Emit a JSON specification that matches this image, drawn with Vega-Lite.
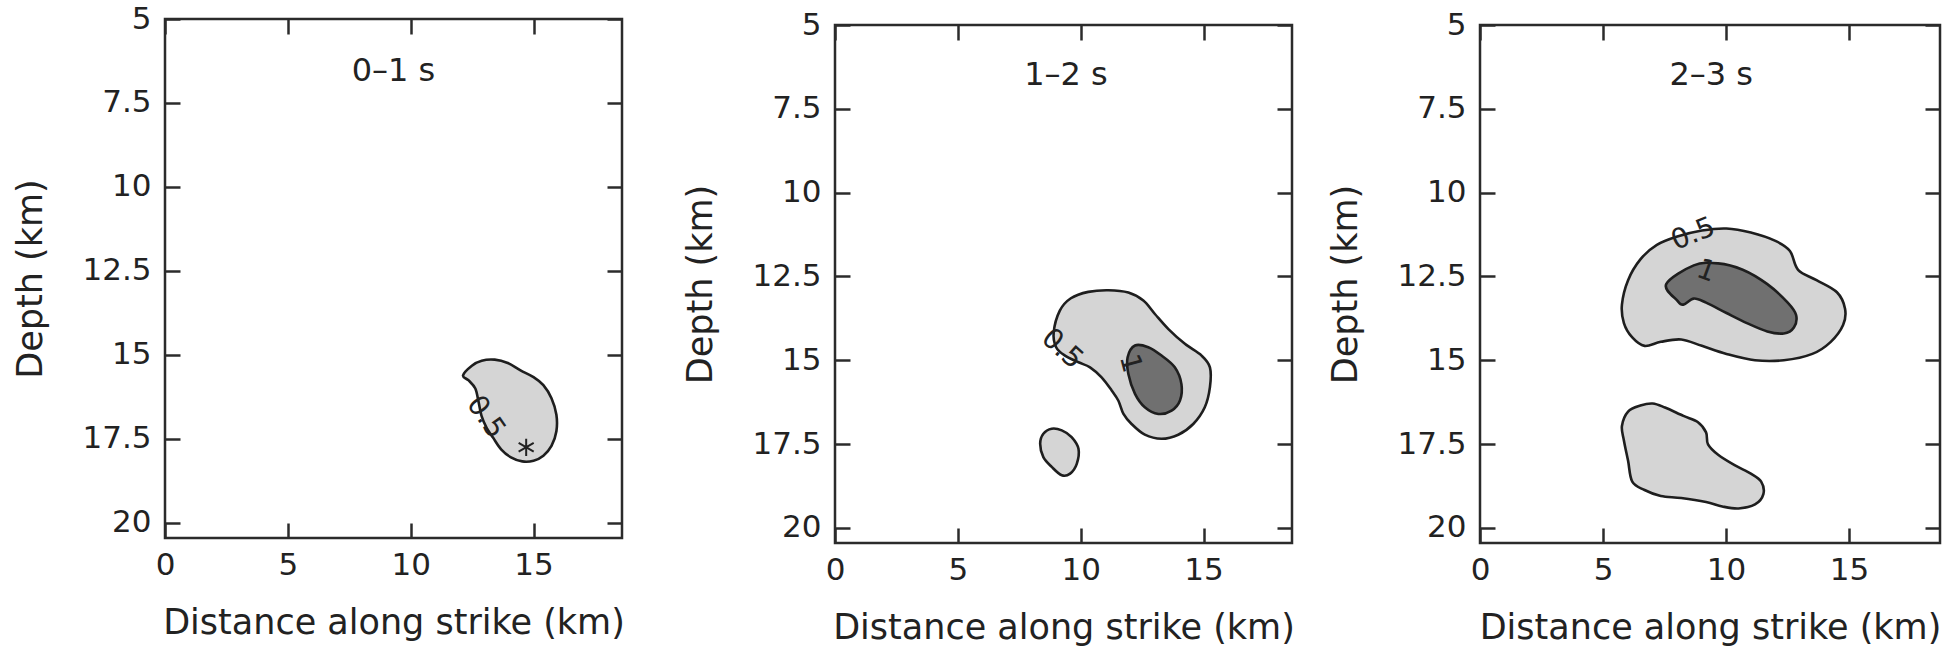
{
  "$schema": "https://vega.github.io/schema/vega-lite/v6.json",
  "background": "white",
  "padding": {"left": 12, "top": 0, "right": 0, "bottom": 0},
  "bounds": "full",
  "spacing": 56,
  "datasets": {
    "contours": [
      {"panel":"p1","poly":"a","level":0.5,"i":0,"x":12.13,"depth":15.61},
      {"panel":"p1","poly":"a","level":0.5,"i":1,"x":12.49,"depth":15.32},
      {"panel":"p1","poly":"a","level":0.5,"i":2,"x":12.89,"depth":15.17},
      {"panel":"p1","poly":"a","level":0.5,"i":3,"x":13.42,"depth":15.14},
      {"panel":"p1","poly":"a","level":0.5,"i":4,"x":13.95,"depth":15.24},
      {"panel":"p1","poly":"a","level":0.5,"i":5,"x":14.47,"depth":15.46},
      {"panel":"p1","poly":"a","level":0.5,"i":6,"x":15.0,"depth":15.66},
      {"panel":"p1","poly":"a","level":0.5,"i":7,"x":15.4,"depth":15.9},
      {"panel":"p1","poly":"a","level":0.5,"i":8,"x":15.73,"depth":16.29},
      {"panel":"p1","poly":"a","level":0.5,"i":9,"x":15.93,"depth":16.78},
      {"panel":"p1","poly":"a","level":0.5,"i":10,"x":15.93,"depth":17.27},
      {"panel":"p1","poly":"a","level":0.5,"i":11,"x":15.73,"depth":17.71},
      {"panel":"p1","poly":"a","level":0.5,"i":12,"x":15.4,"depth":18.0},
      {"panel":"p1","poly":"a","level":0.5,"i":13,"x":15.0,"depth":18.15},
      {"panel":"p1","poly":"a","level":0.5,"i":14,"x":14.54,"depth":18.17},
      {"panel":"p1","poly":"a","level":0.5,"i":15,"x":14.08,"depth":18.05},
      {"panel":"p1","poly":"a","level":0.5,"i":16,"x":13.68,"depth":17.81},
      {"panel":"p1","poly":"a","level":0.5,"i":17,"x":13.35,"depth":17.46},
      {"panel":"p1","poly":"a","level":0.5,"i":18,"x":13.09,"depth":17.17},
      {"panel":"p1","poly":"a","level":0.5,"i":19,"x":12.89,"depth":16.83},
      {"panel":"p1","poly":"a","level":0.5,"i":20,"x":12.76,"depth":16.39},
      {"panel":"p1","poly":"a","level":0.5,"i":21,"x":12.63,"depth":16.0},
      {"panel":"p1","poly":"a","level":0.5,"i":22,"x":12.36,"depth":15.76},

      {"panel":"p2","poly":"a","level":0.5,"i":0,"x":8.9,"depth":14.17},
      {"panel":"p2","poly":"a","level":0.5,"i":1,"x":9.15,"depth":13.52},
      {"panel":"p2","poly":"a","level":0.5,"i":2,"x":9.6,"depth":13.15},
      {"panel":"p2","poly":"a","level":0.5,"i":3,"x":10.31,"depth":12.96},
      {"panel":"p2","poly":"a","level":0.5,"i":4,"x":11.13,"depth":12.91},
      {"panel":"p2","poly":"a","level":0.5,"i":5,"x":11.94,"depth":12.98},
      {"panel":"p2","poly":"a","level":0.5,"i":6,"x":12.55,"depth":13.22},
      {"panel":"p2","poly":"a","level":0.5,"i":7,"x":13.02,"depth":13.62},
      {"panel":"p2","poly":"a","level":0.5,"i":8,"x":13.57,"depth":14.07},
      {"panel":"p2","poly":"a","level":0.5,"i":9,"x":14.24,"depth":14.51},
      {"panel":"p2","poly":"a","level":0.5,"i":10,"x":14.92,"depth":14.86},
      {"panel":"p2","poly":"a","level":0.5,"i":11,"x":15.26,"depth":15.21},
      {"panel":"p2","poly":"a","level":0.5,"i":12,"x":15.26,"depth":15.8},
      {"panel":"p2","poly":"a","level":0.5,"i":13,"x":15.05,"depth":16.4},
      {"panel":"p2","poly":"a","level":0.5,"i":14,"x":14.58,"depth":16.9},
      {"panel":"p2","poly":"a","level":0.5,"i":15,"x":13.97,"depth":17.22},
      {"panel":"p2","poly":"a","level":0.5,"i":16,"x":13.29,"depth":17.34},
      {"panel":"p2","poly":"a","level":0.5,"i":17,"x":12.61,"depth":17.22},
      {"panel":"p2","poly":"a","level":0.5,"i":18,"x":12.07,"depth":16.9},
      {"panel":"p2","poly":"a","level":0.5,"i":19,"x":11.74,"depth":16.6},
      {"panel":"p2","poly":"a","level":0.5,"i":20,"x":11.53,"depth":16.2},
      {"panel":"p2","poly":"a","level":0.5,"i":21,"x":11.26,"depth":15.9},
      {"panel":"p2","poly":"a","level":0.5,"i":22,"x":10.85,"depth":15.51},
      {"panel":"p2","poly":"a","level":0.5,"i":23,"x":10.38,"depth":15.21},
      {"panel":"p2","poly":"a","level":0.5,"i":24,"x":9.91,"depth":15.06},
      {"panel":"p2","poly":"a","level":0.5,"i":25,"x":9.36,"depth":14.86},
      {"panel":"p2","poly":"a","level":0.5,"i":26,"x":9.0,"depth":14.61},

      {"panel":"p2","poly":"b","level":1,"i":0,"x":12.21,"depth":14.56},
      {"panel":"p2","poly":"b","level":1,"i":1,"x":12.75,"depth":14.61},
      {"panel":"p2","poly":"b","level":1,"i":2,"x":13.29,"depth":14.86},
      {"panel":"p2","poly":"b","level":1,"i":3,"x":13.83,"depth":15.21},
      {"panel":"p2","poly":"b","level":1,"i":4,"x":14.1,"depth":15.71},
      {"panel":"p2","poly":"b","level":1,"i":5,"x":14.04,"depth":16.2},
      {"panel":"p2","poly":"b","level":1,"i":6,"x":13.7,"depth":16.5},
      {"panel":"p2","poly":"b","level":1,"i":7,"x":13.16,"depth":16.6},
      {"panel":"p2","poly":"b","level":1,"i":8,"x":12.61,"depth":16.4},
      {"panel":"p2","poly":"b","level":1,"i":9,"x":12.21,"depth":16.0},
      {"panel":"p2","poly":"b","level":1,"i":10,"x":11.94,"depth":15.41},
      {"panel":"p2","poly":"b","level":1,"i":11,"x":11.91,"depth":14.91},

      {"panel":"p2","poly":"c","level":0.5,"i":0,"x":8.82,"depth":17.04},
      {"panel":"p2","poly":"c","level":0.5,"i":1,"x":9.23,"depth":17.09},
      {"panel":"p2","poly":"c","level":0.5,"i":2,"x":9.63,"depth":17.29},
      {"panel":"p2","poly":"c","level":0.5,"i":3,"x":9.91,"depth":17.64},
      {"panel":"p2","poly":"c","level":0.5,"i":4,"x":9.84,"depth":18.09},
      {"panel":"p2","poly":"c","level":0.5,"i":5,"x":9.57,"depth":18.38},
      {"panel":"p2","poly":"c","level":0.5,"i":6,"x":9.23,"depth":18.43},
      {"panel":"p2","poly":"c","level":0.5,"i":7,"x":8.82,"depth":18.18},
      {"panel":"p2","poly":"c","level":0.5,"i":8,"x":8.48,"depth":17.89},
      {"panel":"p2","poly":"c","level":0.5,"i":9,"x":8.35,"depth":17.49},
      {"panel":"p2","poly":"c","level":0.5,"i":10,"x":8.48,"depth":17.19},

      {"panel":"p3","poly":"a","level":0.5,"i":0,"x":5.77,"depth":13.34},
      {"panel":"p3","poly":"a","level":0.5,"i":1,"x":6.02,"depth":12.61},
      {"panel":"p3","poly":"a","level":0.5,"i":2,"x":6.52,"depth":11.99},
      {"panel":"p3","poly":"a","level":0.5,"i":3,"x":7.19,"depth":11.56},
      {"panel":"p3","poly":"a","level":0.5,"i":4,"x":8.02,"depth":11.31},
      {"panel":"p3","poly":"a","level":0.5,"i":5,"x":9.02,"depth":11.13},
      {"panel":"p3","poly":"a","level":0.5,"i":6,"x":10.02,"depth":11.07},
      {"panel":"p3","poly":"a","level":0.5,"i":7,"x":11.01,"depth":11.19},
      {"panel":"p3","poly":"a","level":0.5,"i":8,"x":12.01,"depth":11.44},
      {"panel":"p3","poly":"a","level":0.5,"i":9,"x":12.6,"depth":11.74},
      {"panel":"p3","poly":"a","level":0.5,"i":10,"x":12.93,"depth":12.3},
      {"panel":"p3","poly":"a","level":0.5,"i":11,"x":13.68,"depth":12.61},
      {"panel":"p3","poly":"a","level":0.5,"i":12,"x":14.51,"depth":12.97},
      {"panel":"p3","poly":"a","level":0.5,"i":13,"x":14.84,"depth":13.46},
      {"panel":"p3","poly":"a","level":0.5,"i":14,"x":14.76,"depth":13.95},
      {"panel":"p3","poly":"a","level":0.5,"i":15,"x":14.26,"depth":14.45},
      {"panel":"p3","poly":"a","level":0.5,"i":16,"x":13.51,"depth":14.81},
      {"panel":"p3","poly":"a","level":0.5,"i":17,"x":12.35,"depth":15.0},
      {"panel":"p3","poly":"a","level":0.5,"i":18,"x":11.18,"depth":15.0},
      {"panel":"p3","poly":"a","level":0.5,"i":19,"x":10.02,"depth":14.81},
      {"panel":"p3","poly":"a","level":0.5,"i":20,"x":9.02,"depth":14.57},
      {"panel":"p3","poly":"a","level":0.5,"i":21,"x":8.18,"depth":14.38},
      {"panel":"p3","poly":"a","level":0.5,"i":22,"x":7.35,"depth":14.45},
      {"panel":"p3","poly":"a","level":0.5,"i":23,"x":6.69,"depth":14.57},
      {"panel":"p3","poly":"a","level":0.5,"i":24,"x":6.19,"depth":14.32},
      {"panel":"p3","poly":"a","level":0.5,"i":25,"x":5.85,"depth":13.89},

      {"panel":"p3","poly":"b","level":1,"i":0,"x":7.57,"depth":12.73},
      {"panel":"p3","poly":"b","level":1,"i":1,"x":8.69,"depth":12.17},
      {"panel":"p3","poly":"b","level":1,"i":2,"x":9.68,"depth":12.11},
      {"panel":"p3","poly":"b","level":1,"i":3,"x":10.68,"depth":12.3},
      {"panel":"p3","poly":"b","level":1,"i":4,"x":11.68,"depth":12.73},
      {"panel":"p3","poly":"b","level":1,"i":5,"x":12.51,"depth":13.28},
      {"panel":"p3","poly":"b","level":1,"i":6,"x":12.85,"depth":13.65},
      {"panel":"p3","poly":"b","level":1,"i":7,"x":12.76,"depth":14.02},
      {"panel":"p3","poly":"b","level":1,"i":8,"x":12.35,"depth":14.2},
      {"panel":"p3","poly":"b","level":1,"i":9,"x":11.68,"depth":14.14},
      {"panel":"p3","poly":"b","level":1,"i":10,"x":10.85,"depth":13.89},
      {"panel":"p3","poly":"b","level":1,"i":11,"x":10.02,"depth":13.59},
      {"panel":"p3","poly":"b","level":1,"i":12,"x":9.19,"depth":13.28},
      {"panel":"p3","poly":"b","level":1,"i":13,"x":8.69,"depth":13.16},
      {"panel":"p3","poly":"b","level":1,"i":14,"x":8.27,"depth":13.34},
      {"panel":"p3","poly":"b","level":1,"i":15,"x":8.02,"depth":13.22},

      {"panel":"p3","poly":"c","level":0.5,"i":0,"x":5.77,"depth":16.96},
      {"panel":"p3","poly":"c","level":0.5,"i":1,"x":6.02,"depth":16.53},
      {"panel":"p3","poly":"c","level":0.5,"i":2,"x":6.52,"depth":16.35},
      {"panel":"p3","poly":"c","level":0.5,"i":3,"x":7.02,"depth":16.29},
      {"panel":"p3","poly":"c","level":0.5,"i":4,"x":7.52,"depth":16.41},
      {"panel":"p3","poly":"c","level":0.5,"i":5,"x":8.27,"depth":16.66},
      {"panel":"p3","poly":"c","level":0.5,"i":6,"x":8.85,"depth":16.84},
      {"panel":"p3","poly":"c","level":0.5,"i":7,"x":9.19,"depth":17.15},
      {"panel":"p3","poly":"c","level":0.5,"i":8,"x":9.27,"depth":17.51},
      {"panel":"p3","poly":"c","level":0.5,"i":9,"x":9.68,"depth":17.82},
      {"panel":"p3","poly":"c","level":0.5,"i":10,"x":10.35,"depth":18.13},
      {"panel":"p3","poly":"c","level":0.5,"i":11,"x":11.01,"depth":18.38},
      {"panel":"p3","poly":"c","level":0.5,"i":12,"x":11.43,"depth":18.62},
      {"panel":"p3","poly":"c","level":0.5,"i":13,"x":11.52,"depth":18.99},
      {"panel":"p3","poly":"c","level":0.5,"i":14,"x":11.18,"depth":19.3},
      {"panel":"p3","poly":"c","level":0.5,"i":15,"x":10.51,"depth":19.42},
      {"panel":"p3","poly":"c","level":0.5,"i":16,"x":9.85,"depth":19.36},
      {"panel":"p3","poly":"c","level":0.5,"i":17,"x":9.19,"depth":19.23},
      {"panel":"p3","poly":"c","level":0.5,"i":18,"x":8.18,"depth":19.11},
      {"panel":"p3","poly":"c","level":0.5,"i":19,"x":7.35,"depth":19.05},
      {"panel":"p3","poly":"c","level":0.5,"i":20,"x":6.69,"depth":18.87},
      {"panel":"p3","poly":"c","level":0.5,"i":21,"x":6.19,"depth":18.62},
      {"panel":"p3","poly":"c","level":0.5,"i":22,"x":6.02,"depth":18.0},
      {"panel":"p3","poly":"c","level":0.5,"i":23,"x":5.85,"depth":17.39}
    ],
    "labels": [
      {"panel":"p1","kind":"title","text":"0–1 s","x":9.3,"depth":6.55},
      {"panel":"p2","kind":"title","text":"1–2 s","x":9.4,"depth":6.5},
      {"panel":"p3","kind":"title","text":"2–3 s","x":9.4,"depth":6.5},
      {"panel":"p1","kind":"c05","text":"0.5","x":13.04,"depth":16.86},
      {"panel":"p2","kind":"c05","text":"0.5","x":9.23,"depth":14.67},
      {"panel":"p2","kind":"c1","text":"1","x":12.0,"depth":15.1},
      {"panel":"p3","kind":"c05","text":"0.5","x":8.67,"depth":11.25},
      {"panel":"p3","kind":"c1","text":"1","x":9.19,"depth":12.35},
      {"panel":"p1","kind":"star","text":"*","x":14.7,"depth":17.75}
    ],
    "spacer": [{"v": 0}]
  },
  "hconcat": [
    {
      "spacing": 0,
      "vconcat": [
        {
          "width": 10, "height": 1,
          "view": {"stroke": null},
          "data": {"name": "spacer"},
          "mark": {"type": "point", "opacity": 0, "size": 0},
          "encoding": {}
        },
        {
          "width": 457, "height": 519,
          "resolve": {"axis": {"x": "independent", "y": "independent"}},
          "layer": [
            {
              "data": {"name": "contours"},
              "transform": [{"filter": "datum.panel == 'p1' && datum.level == 0.5"}],
              "mark": {"type": "line", "interpolate": "cardinal-closed", "fill": "#d5d5d5", "stroke": "#1e1e1e", "strokeWidth": 2.6},
              "encoding": {
                "x": {"field": "x", "type": "quantitative", "scale": {"domain": [0, 18.6], "nice": false, "zero": false}, "axis": {"values": [0, 5, 10, 15], "title": "Distance along strike (km)"}},
                "y": {"field": "depth", "type": "quantitative", "scale": {"domain": [5, 20.45], "reverse": true, "nice": false, "zero": false}, "axis": {"values": [5, 7.5, 10, 12.5, 15, 17.5, 20], "format": ".1~f", "title": "Depth (km)"}},
                "detail": {"field": "poly"},
                "order": {"field": "i", "type": "quantitative"}
              }
            },
            {
              "data": {"name": "labels"},
              "transform": [{"filter": "datum.panel == 'p1' && datum.kind == 'title'"}],
              "mark": {"type": "text", "font": "DejaVu Sans", "fontSize": 32, "color": "#222", "align": "center", "baseline": "middle"},
              "encoding": {
                "x": {"field": "x", "type": "quantitative", "scale": {"domain": [0, 18.6], "nice": false, "zero": false}, "axis": {"orient": "top", "values": [0, 5, 10, 15], "labels": false, "title": null}},
                "y": {"field": "depth", "type": "quantitative", "scale": {"domain": [5, 20.45], "reverse": true, "nice": false, "zero": false}, "axis": {"orient": "right", "values": [5, 7.5, 10, 12.5, 15, 17.5, 20], "labels": false, "title": null}},
                "text": {"field": "text"}
              }
            },
            {
              "data": {"name": "labels"},
              "transform": [{"filter": "datum.panel == 'p1' && datum.kind == 'c05'"}],
              "mark": {"type": "text", "font": "DejaVu Sans", "fontSize": 28, "color": "#222", "align": "center", "baseline": "middle", "angle": 55},
              "encoding": {
                "x": {"field": "x", "type": "quantitative", "scale": {"domain": [0, 18.6], "nice": false, "zero": false}, "axis": null},
                "y": {"field": "depth", "type": "quantitative", "scale": {"domain": [5, 20.45], "reverse": true, "nice": false, "zero": false}, "axis": null},
                "text": {"field": "text"}
              }
            },
            {
              "data": {"name": "labels"},
              "transform": [{"filter": "datum.panel == 'p1' && datum.kind == 'star'"}],
              "mark": {"type": "point", "shape": "M0,-1L0,1M-0.87,-0.5L0.87,0.5M-0.87,0.5L0.87,-0.5", "filled": false, "stroke": "#222", "strokeWidth": 2, "size": 300, "opacity": 1},
              "encoding": {
                "x": {"field": "x", "type": "quantitative", "scale": {"domain": [0, 18.6], "nice": false, "zero": false}, "axis": null},
                "y": {"field": "depth", "type": "quantitative", "scale": {"domain": [5, 20.45], "reverse": true, "nice": false, "zero": false}, "axis": null}
              }
            }
          ]
        }
      ]
    },
    {
      "spacing": 6,
      "vconcat": [
        {
          "width": 10, "height": 1,
          "view": {"stroke": null},
          "data": {"name": "spacer"},
          "mark": {"type": "point", "opacity": 0, "size": 0},
          "encoding": {}
        },
        {
          "spacing": 31,
          "hconcat": [
            {
              "width": 457, "height": 518,
              "resolve": {"axis": {"x": "independent", "y": "independent"}},
              "layer": [
                {
                  "data": {"name": "contours"},
                  "transform": [{"filter": "datum.panel == 'p2' && datum.level == 0.5"}],
                  "mark": {"type": "line", "interpolate": "cardinal-closed", "fill": "#d5d5d5", "stroke": "#1e1e1e", "strokeWidth": 2.6},
                  "encoding": {
                    "x": {"field": "x", "type": "quantitative", "scale": {"domain": [0, 18.6], "nice": false, "zero": false}, "axis": {"values": [0, 5, 10, 15], "title": "Distance along strike (km)"}},
                    "y": {"field": "depth", "type": "quantitative", "scale": {"domain": [5, 20.45], "reverse": true, "nice": false, "zero": false}, "axis": {"values": [5, 7.5, 10, 12.5, 15, 17.5, 20], "format": ".1~f", "title": "Depth (km)"}},
                    "detail": {"field": "poly"},
                    "order": {"field": "i", "type": "quantitative"}
                  }
                },
                {
                  "data": {"name": "contours"},
                  "transform": [{"filter": "datum.panel == 'p2' && datum.level == 1"}],
                  "mark": {"type": "line", "interpolate": "cardinal-closed", "fill": "#707070", "stroke": "#1e1e1e", "strokeWidth": 2.6},
                  "encoding": {
                    "x": {"field": "x", "type": "quantitative", "scale": {"domain": [0, 18.6], "nice": false, "zero": false}, "axis": null},
                    "y": {"field": "depth", "type": "quantitative", "scale": {"domain": [5, 20.45], "reverse": true, "nice": false, "zero": false}, "axis": null},
                    "detail": {"field": "poly"},
                    "order": {"field": "i", "type": "quantitative"}
                  }
                },
                {
                  "data": {"name": "labels"},
                  "transform": [{"filter": "datum.panel == 'p2' && datum.kind == 'title'"}],
                  "mark": {"type": "text", "font": "DejaVu Sans", "fontSize": 32, "color": "#222", "align": "center", "baseline": "middle"},
                  "encoding": {
                    "x": {"field": "x", "type": "quantitative", "scale": {"domain": [0, 18.6], "nice": false, "zero": false}, "axis": {"orient": "top", "values": [0, 5, 10, 15], "labels": false, "title": null}},
                    "y": {"field": "depth", "type": "quantitative", "scale": {"domain": [5, 20.45], "reverse": true, "nice": false, "zero": false}, "axis": {"orient": "right", "values": [5, 7.5, 10, 12.5, 15, 17.5, 20], "labels": false, "title": null}},
                    "text": {"field": "text"}
                  }
                },
                {
                  "data": {"name": "labels"},
                  "transform": [{"filter": "datum.panel == 'p2' && datum.kind == 'c05'"}],
                  "mark": {"type": "text", "font": "DejaVu Sans", "fontSize": 28, "color": "#222", "align": "center", "baseline": "middle", "angle": 42},
                  "encoding": {
                    "x": {"field": "x", "type": "quantitative", "scale": {"domain": [0, 18.6], "nice": false, "zero": false}, "axis": null},
                    "y": {"field": "depth", "type": "quantitative", "scale": {"domain": [5, 20.45], "reverse": true, "nice": false, "zero": false}, "axis": null},
                    "text": {"field": "text"}
                  }
                },
                {
                  "data": {"name": "labels"},
                  "transform": [{"filter": "datum.panel == 'p2' && datum.kind == 'c1'"}],
                  "mark": {"type": "text", "font": "DejaVu Sans", "fontSize": 28, "color": "#222", "align": "center", "baseline": "middle", "angle": 75},
                  "encoding": {
                    "x": {"field": "x", "type": "quantitative", "scale": {"domain": [0, 18.6], "nice": false, "zero": false}, "axis": null},
                    "y": {"field": "depth", "type": "quantitative", "scale": {"domain": [5, 20.45], "reverse": true, "nice": false, "zero": false}, "axis": null},
                    "text": {"field": "text"}
                  }
                }
              ]
            },
            {
              "width": 460, "height": 518,
              "resolve": {"axis": {"x": "independent", "y": "independent"}},
              "layer": [
                {
                  "data": {"name": "contours"},
                  "transform": [{"filter": "datum.panel == 'p3' && datum.level == 0.5"}],
                  "mark": {"type": "line", "interpolate": "cardinal-closed", "fill": "#d5d5d5", "stroke": "#1e1e1e", "strokeWidth": 2.6},
                  "encoding": {
                    "x": {"field": "x", "type": "quantitative", "scale": {"domain": [0, 18.7], "nice": false, "zero": false}, "axis": {"values": [0, 5, 10, 15], "title": "Distance along strike (km)"}},
                    "y": {"field": "depth", "type": "quantitative", "scale": {"domain": [5, 20.45], "reverse": true, "nice": false, "zero": false}, "axis": {"values": [5, 7.5, 10, 12.5, 15, 17.5, 20], "format": ".1~f", "title": "Depth (km)"}},
                    "detail": {"field": "poly"},
                    "order": {"field": "i", "type": "quantitative"}
                  }
                },
                {
                  "data": {"name": "contours"},
                  "transform": [{"filter": "datum.panel == 'p3' && datum.level == 1"}],
                  "mark": {"type": "line", "interpolate": "cardinal-closed", "fill": "#707070", "stroke": "#1e1e1e", "strokeWidth": 2.6},
                  "encoding": {
                    "x": {"field": "x", "type": "quantitative", "scale": {"domain": [0, 18.7], "nice": false, "zero": false}, "axis": null},
                    "y": {"field": "depth", "type": "quantitative", "scale": {"domain": [5, 20.45], "reverse": true, "nice": false, "zero": false}, "axis": null},
                    "detail": {"field": "poly"},
                    "order": {"field": "i", "type": "quantitative"}
                  }
                },
                {
                  "data": {"name": "labels"},
                  "transform": [{"filter": "datum.panel == 'p3' && datum.kind == 'title'"}],
                  "mark": {"type": "text", "font": "DejaVu Sans", "fontSize": 32, "color": "#222", "align": "center", "baseline": "middle"},
                  "encoding": {
                    "x": {"field": "x", "type": "quantitative", "scale": {"domain": [0, 18.7], "nice": false, "zero": false}, "axis": {"orient": "top", "values": [0, 5, 10, 15], "labels": false, "title": null}},
                    "y": {"field": "depth", "type": "quantitative", "scale": {"domain": [5, 20.45], "reverse": true, "nice": false, "zero": false}, "axis": {"orient": "right", "values": [5, 7.5, 10, 12.5, 15, 17.5, 20], "labels": false, "title": null}},
                    "text": {"field": "text"}
                  }
                },
                {
                  "data": {"name": "labels"},
                  "transform": [{"filter": "datum.panel == 'p3' && datum.kind == 'c05'"}],
                  "mark": {"type": "text", "font": "DejaVu Sans", "fontSize": 28, "color": "#222", "align": "center", "baseline": "middle", "angle": -22},
                  "encoding": {
                    "x": {"field": "x", "type": "quantitative", "scale": {"domain": [0, 18.7], "nice": false, "zero": false}, "axis": null},
                    "y": {"field": "depth", "type": "quantitative", "scale": {"domain": [5, 20.45], "reverse": true, "nice": false, "zero": false}, "axis": null},
                    "text": {"field": "text"}
                  }
                },
                {
                  "data": {"name": "labels"},
                  "transform": [{"filter": "datum.panel == 'p3' && datum.kind == 'c1'"}],
                  "mark": {"type": "text", "font": "DejaVu Sans", "fontSize": 28, "color": "#222", "align": "center", "baseline": "middle", "angle": 20},
                  "encoding": {
                    "x": {"field": "x", "type": "quantitative", "scale": {"domain": [0, 18.7], "nice": false, "zero": false}, "axis": null},
                    "y": {"field": "depth", "type": "quantitative", "scale": {"domain": [5, 20.45], "reverse": true, "nice": false, "zero": false}, "axis": null},
                    "text": {"field": "text"}
                  }
                }
              ]
            }
          ]
        }
      ]
    }
  ],
  "config": {
    "view": {"stroke": "#2b2b2b", "strokeWidth": 2.5},
    "axis": {
      "domain": false, "grid": false,
      "tickColor": "#2b2b2b", "tickWidth": 2.5, "tickSize": -15,
      "labelFont": "DejaVu Sans", "labelFontSize": 31, "labelColor": "#222", "labelFlush": false,
      "titleFont": "DejaVu Sans", "titleFontSize": 35, "titleFontWeight": "normal", "titleColor": "#222"
    },
    "axisX": {"labelPadding": 27, "titlePadding": 25},
    "axisY": {"labelPadding": 29, "titlePadding": 33}
  }
}
